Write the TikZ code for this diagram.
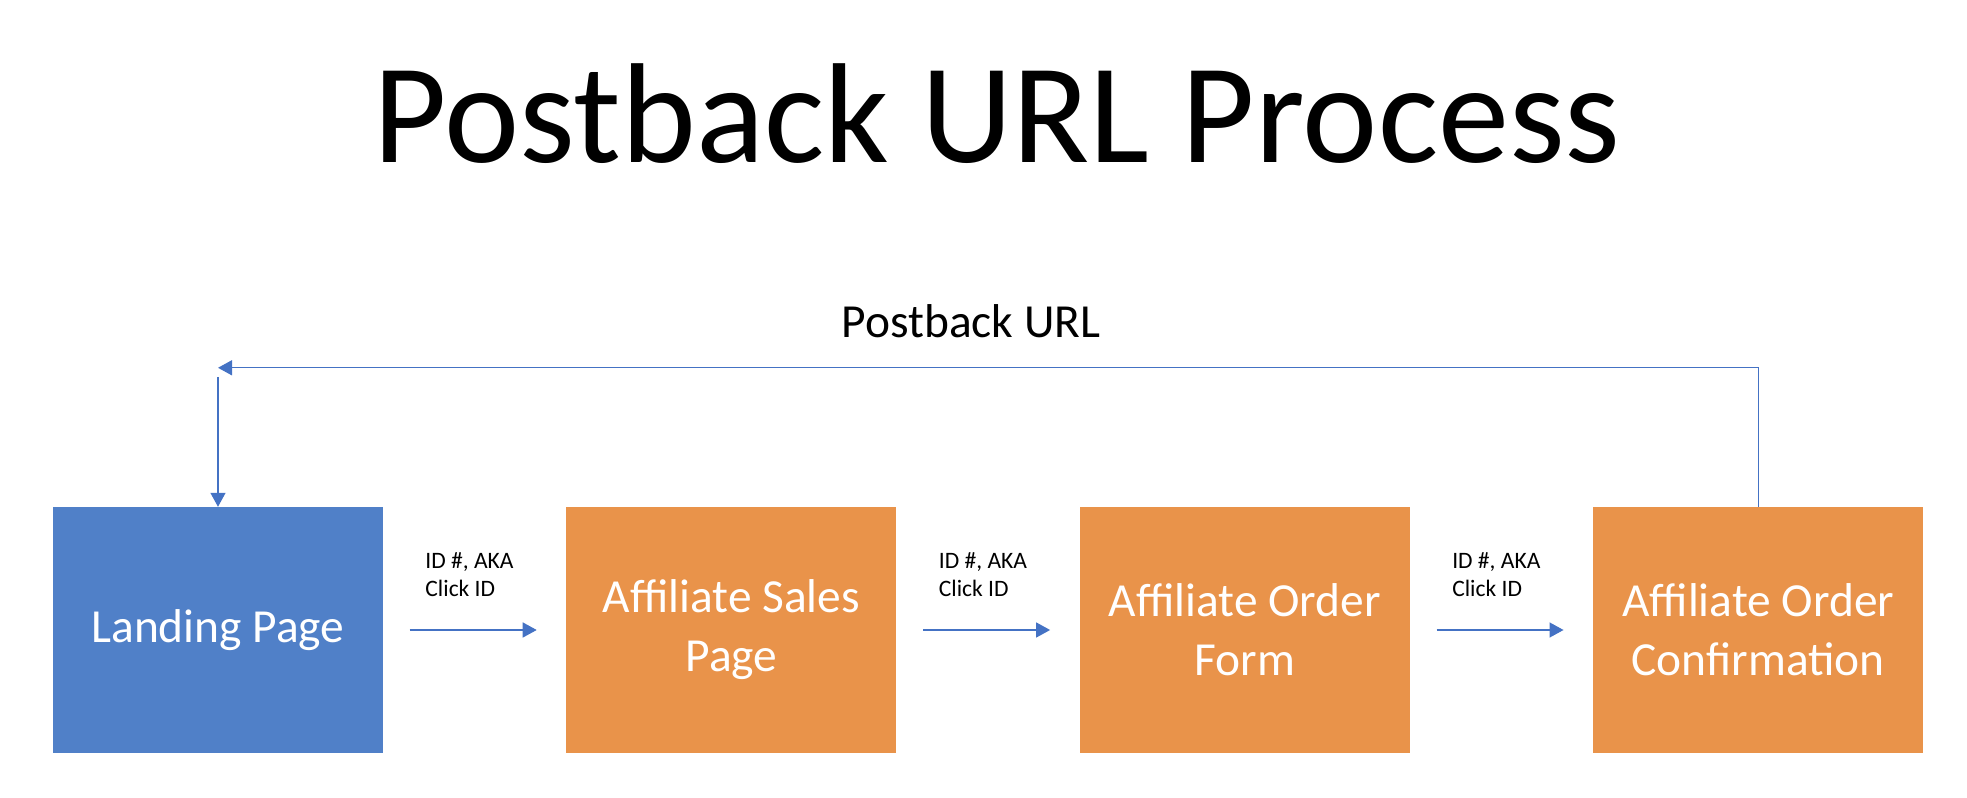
\documentclass[tikz,border=0pt]{standalone}
\usepackage{fontspec}
\setmainfont{Carlito}
\usepackage{tikz}
\usetikzlibrary{arrows.meta,positioning}
\definecolor{pbblue}{HTML}{5080C8}
\definecolor{pborange}{HTML}{E9934A}
\definecolor{pbarrow}{HTML}{4472C4}

\begin{document}
\begin{tikzpicture}[
    procbox/.style={fill=#1, draw=none, minimum width=3.30cm, minimum height=2.45cm,
      inner sep=0pt, align=center, text=white, font=\fontsize{13.5}{16.8}\selectfont},
    idlbl/.style={inner sep=0pt, align=left, font=\fontsize{6.7}{8}\selectfont},
    flow/.style={draw=pbarrow, line width=0.4pt, -{Triangle[length=0.14cm,width=0.15cm]}}]
  \useasboundingbox (0,0) rectangle (19.67,7.97);
  \node[font=\fontsize{40.5}{48}\selectfont, inner sep=0pt, anchor=base] (title) at (9.97,6.34)
    {Postback URL Process};
  % the four steps
  \node[procbox=pbblue] (landing) at (2.18,1.67) {Landing Page};
  \node[procbox=pborange, right=1.82cm of landing] (sales) {Affiliate Sales\\Page};
  \node[procbox=pborange, right=1.82cm of sales] (orderform) {Affiliate Order\\Form};
  \node[procbox=pborange, right=1.82cm of orderform] (confirm) {Affiliate Order\\Confirmation};
  % click id handed on
  \node[idlbl, anchor=base west] (id1) at ([xshift=0.41cm,yshift=0.33cm]landing.east) {ID \#, AKA\\Click ID};
  \node[idlbl, anchor=base west] (id2) at ([xshift=0.41cm,yshift=0.33cm]sales.east) {ID \#, AKA\\Click ID};
  \node[idlbl, anchor=base west] (id3) at ([xshift=0.41cm,yshift=0.33cm]orderform.east) {ID \#, AKA\\Click ID};
  \draw[flow] ([xshift=0.26cm]landing.east) -- ([xshift=-0.29cm]sales.west);
  \draw[flow] ([xshift=0.26cm]sales.east) -- ([xshift=-0.29cm]orderform.west);
  \draw[flow] ([xshift=0.26cm]orderform.east) -- ([xshift=-0.29cm]confirm.west);
  % postback back to the landing page
  \coordinate (pbend) at ([yshift=1.39cm]landing.north);
  \coordinate (pbstart) at ([yshift=1.30cm]landing.north);
  \draw[flow] (confirm.north) |- (pbend);
  \draw[flow] (pbstart) -- (landing.north);
  \node[font=\fontsize{13.5}{16}\selectfont, inner sep=0pt, anchor=base] (pblbl) at (9.71,4.59) {Postback URL};
\end{tikzpicture}
\end{document}
